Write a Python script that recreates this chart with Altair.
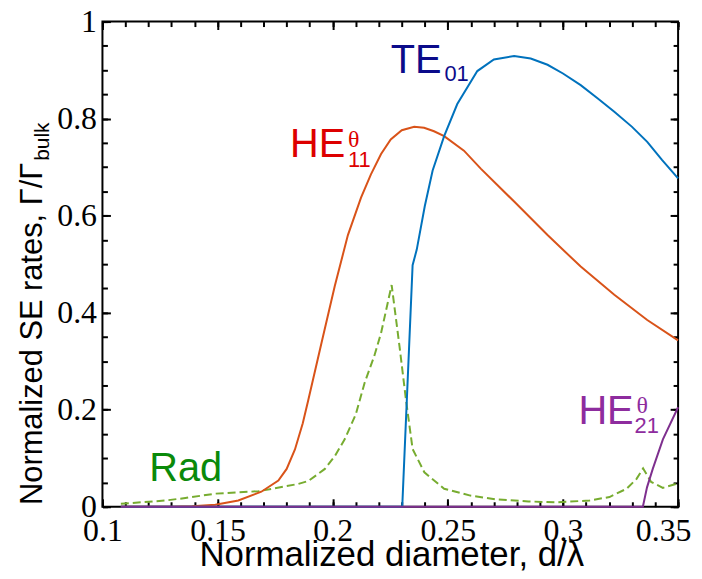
import altair as alt
import pandas as pd

# ---------------- data ----------------
te01_x = [0.108, 0.2302, 0.2347, 0.2365, 0.2400, 0.2434, 0.2484, 0.2541, 0.2628, 0.2700,
          0.2788, 0.2860, 0.2933, 0.3000, 0.3077, 0.3150, 0.3223, 0.3300, 0.3366, 0.3430, 0.3500]
te01_y = [0, 0, 0.498, 0.53, 0.62, 0.693, 0.764, 0.830, 0.898, 0.922,
          0.929, 0.924, 0.911, 0.893, 0.869, 0.842, 0.814, 0.783, 0.752, 0.715, 0.677]

he11_x = [0.108, 0.130, 0.139, 0.149, 0.159, 0.169, 0.1764, 0.1800, 0.1836, 0.1870, 0.1894,
          0.195, 0.2009, 0.2066, 0.2123, 0.2166, 0.2210, 0.2252, 0.2300, 0.2354, 0.2397, 0.2440,
          0.2484, 0.257, 0.2643, 0.2788, 0.2933, 0.3077, 0.3223, 0.3366, 0.35]
he11_y = [0, 0, 0.001, 0.004, 0.013, 0.031, 0.054, 0.078, 0.118, 0.172, 0.22,
          0.335, 0.455, 0.56, 0.637, 0.685, 0.727, 0.757, 0.776, 0.783, 0.781, 0.774,
          0.764, 0.734, 0.697, 0.629, 0.560, 0.495, 0.437, 0.385, 0.343]

rad_x = [0.108, 0.1275, 0.136, 0.149, 0.1678, 0.185, 0.1894, 0.1966, 0.2010, 0.2052, 0.2100,
         0.2139, 0.2180, 0.2210, 0.2256, 0.2290, 0.2318, 0.2347, 0.2398, 0.2484, 0.2598, 0.2714,
         0.2850, 0.2973, 0.3116, 0.3202, 0.3276, 0.3319, 0.3348, 0.3383, 0.3434, 0.3490, 0.35]
rad_y = [0.006, 0.013, 0.018, 0.027, 0.032, 0.047, 0.053, 0.078, 0.105, 0.139, 0.19,
         0.256, 0.31, 0.358, 0.457, 0.331, 0.221, 0.119, 0.071, 0.037, 0.023, 0.015,
         0.011, 0.009, 0.013, 0.02, 0.037, 0.057, 0.079, 0.051, 0.039, 0.047, 0.048]

he21_x = [0.108, 0.3347, 0.3365, 0.339, 0.3434, 0.35]
he21_y = [0, 0, 0.04, 0.078, 0.139, 0.205]

x_major = [0.1, 0.15, 0.2, 0.25, 0.3, 0.35]
x_minor = [0.1, 0.11, 0.12, 0.13, 0.14, 0.15, 0.16, 0.17, 0.18, 0.19, 0.2, 0.21, 0.22,
           0.23, 0.24, 0.25, 0.26, 0.27, 0.28, 0.29, 0.3, 0.31, 0.32, 0.33, 0.34, 0.35]
y_major = [0, 0.2, 0.4, 0.6, 0.8, 1]
y_minor = [0, 0.05, 0.1, 0.15, 0.2, 0.25, 0.3, 0.35, 0.4, 0.45, 0.5, 0.55, 0.6, 0.65,
           0.7, 0.75, 0.8, 0.85, 0.9, 0.95, 1]

x_title = ["Normalized diameter, d/λ"]
y_title_main = ["Normalized SE rates, Γ/Γ"]
y_title_sub = ["bulk"]

ann_text = ["TE", "01", "HE", "11", "Rad", "HE", "21"]
ann_x = [0.2252, 0.2485, 0.1815, 0.2066, 0.1203, 0.3067, 0.3311]
ann_y = [0.893, 0.877, 0.720, 0.701, 0.054, 0.170, 0.153]
ann_size = [40, 22, 40, 22, 40, 40, 22]
ann_color = ["#0b0b8a", "#0b0b8a", "#dd0000", "#dd0000", "#0a8a0a", "#8e2c9e", "#8e2c9e"]

theta_text = ["θ", "θ"]
theta_x = [0.2066, 0.3319]
theta_y = [0.742, 0.194]
theta_color = ["#dd0000", "#8e2c9e"]

# ---------------- chart ----------------
xs = alt.Scale(domain=[0.1, 0.35], nice=False, zero=False)
ys = alt.Scale(domain=[0, 1], nice=False, zero=False)

common = dict(domain=False, grid=False, tickColor="black", tickWidth=2)

ax_b_major = alt.Axis(orient="bottom", values=x_major, format="~g", offset=-8, tickSize=8,
                      labelFont="Liberation Serif", labelFontSize=32, labelColor="black",
                      labelPadding=9, labelFlush=False, labelOverlap=False,
                      labelOffset={"condition": {"test": "datum.value > 0.34", "value": -15}, "value": 0},
                      title=None, **common)
ax_b_minor = alt.Axis(orient="bottom", values=x_minor, offset=-5, tickSize=5, labels=False,
                      title=None, **common)
ax_t_major = alt.Axis(orient="top", values=x_major, offset=-8, tickSize=8, labels=False,
                      title=None, **common)
ax_t_minor = alt.Axis(orient="top", values=x_minor, offset=-5, tickSize=5, labels=False,
                      title=None, **common)

ax_l_major = alt.Axis(orient="left", values=y_major, format="~g", offset=-8, tickSize=8,
                      labelFont="Liberation Serif", labelFontSize=32, labelColor="black",
                      labelPadding=6, labelFlush=False, labelOverlap=False, title=None, **common)
ax_l_minor = alt.Axis(orient="left", values=y_minor, offset=-5, tickSize=5, labels=False,
                      title=None, **common)
ax_r_major = alt.Axis(orient="right", values=y_major, offset=-8, tickSize=8, labels=False,
                      title=None, **common)
ax_r_minor = alt.Axis(orient="right", values=y_minor, offset=-5, tickSize=5, labels=False,
                      title=None, **common)


def line_layer(xv, yv, color, xaxis, yaxis, dash=None):
    df = pd.DataFrame({"d": xv, "g": yv})
    if dash is None:
        mk = alt.Chart(df).mark_line(color=color, strokeWidth=2)
    else:
        mk = alt.Chart(df).mark_line(color=color, strokeWidth=2, strokeDash=dash)
    return mk.encode(
        x=alt.X("d:Q", scale=xs, axis=xaxis),
        y=alt.Y("g:Q", scale=ys, axis=yaxis),
        order=alt.Order("d:Q"),
    )


rad = line_layer(rad_x, rad_y, "#77AC30", ax_t_major, ax_r_major, dash=[8, 4])
he11 = line_layer(he11_x, he11_y, "#D95319", ax_b_minor, ax_l_minor)
te01 = line_layer(te01_x, te01_y, "#0072BD", ax_b_major, ax_l_major)
he21 = line_layer(he21_x, he21_y, "#7E2F8E", ax_t_minor, ax_r_minor)

ann_df = pd.DataFrame({"t": ann_text, "x": ann_x, "y": ann_y, "s": ann_size, "c": ann_color})
ann = alt.Chart(ann_df).mark_text(font="Liberation Sans", align="left", baseline="alphabetic").encode(
    x=alt.X("x:Q", scale=xs, axis=None),
    y=alt.Y("y:Q", scale=ys, axis=None),
    text="t:N",
    size=alt.Size("s:Q", scale=None),
    color=alt.Color("c:N", scale=None),
)

theta_df = pd.DataFrame({"t": theta_text, "x": theta_x, "y": theta_y, "c": theta_color})
theta = alt.Chart(theta_df).mark_text(font="Liberation Serif", fontSize=24, align="left",
                                      baseline="alphabetic").encode(
    x=alt.X("x:Q", scale=xs, axis=None),
    y=alt.Y("y:Q", scale=ys, axis=None),
    text="t:N",
    color=alt.Color("c:N", scale=None),
)

xtl = alt.Chart(pd.DataFrame({"t": x_title})).mark_text(
    font="Liberation Sans", fontSize=35, align="center", baseline="alphabetic",
    color="black").encode(x=alt.value(291), y=alt.value(548), text="t:N")
ytm = alt.Chart(pd.DataFrame({"t": y_title_main})).mark_text(
    font="Liberation Sans", fontSize=31, angle=270, align="right", baseline="alphabetic",
    color="black").encode(x=alt.value(-61), y=alt.value(142), text="t:N")
yts = alt.Chart(pd.DataFrame({"t": y_title_sub})).mark_text(
    font="Liberation Sans", fontSize=21, angle=270, align="left", baseline="alphabetic",
    color="black").encode(x=alt.value(-54), y=alt.value(140), text="t:N")

chart = (
    alt.layer(rad, he11, te01, he21, ann, theta, xtl, ytm, yts)
    .resolve_axis(x="independent", y="independent")
    .properties(width=579, height=488,
                padding={"left": 95, "top": 12, "right": 16, "bottom": 69},
                autosize=alt.AutoSizeParams(type="none"), background="white")
    .configure_view(stroke="black", strokeWidth=2)
)

chart.save("out.html", embed_options={"renderer": "svg", "actions": False})
